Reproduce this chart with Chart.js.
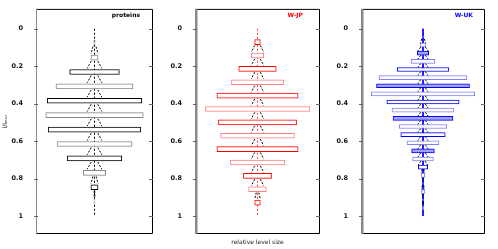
<!DOCTYPE html>
<html>
<head>
<script src="https://cdn.jsdelivr.net/npm/chart.js@4.4.0/dist/chart.umd.min.js"></script>
<style>
  body { margin: 0; background: #fff; }
  canvas { position: absolute; top: 0; }
</style>
</head>
<body>
<canvas id="c1" width="165" height="249" style="left:0px"></canvas>
<canvas id="c2" width="165" height="249" style="left:165px"></canvas>
<canvas id="c3" width="168" height="249" style="left:330px"></canvas>

<script>
  // y axis: l / lmax, ticks shown on every panel
  const yTicks = [0, 0.2, 0.4, 0.6, 0.8, 1];

  // proteins: 13 levels below the root, relative level size (max = 1)
  const proteinsLevel = [0, 1, 2, 3, 4, 5, 6, 7, 8, 9, 10, 11, 12, 13];
  const proteinsSize = [0, 0.01, 0.073, 0.51, 0.79, 0.97, 1, 0.95, 0.77, 0.56, 0.23, 0.073, 0.01, 0];

  // W-JP: 14 levels
  const wjpLevel = [0, 1, 2, 3, 4, 5, 6, 7, 8, 9, 10, 11, 12, 13, 14];
  const wjpSize = [0, 0.054, 0.12, 0.36, 0.5, 0.78, 1, 0.75, 0.71, 0.78, 0.52, 0.27, 0.17, 0.054, 0];

  // W-UK: 23 levels
  const wukLevel = [0, 1, 2, 3, 4, 5, 6, 7, 8, 9, 10, 11, 12, 13, 14, 15, 16, 17, 18, 19, 20, 21, 22, 23];
  const wukSize = [0, 0.01, 0.054, 0.11, 0.23, 0.5, 0.85, 0.9, 1, 0.7, 0.6, 0.58, 0.46, 0.43,
                   0.31, 0.22, 0.2, 0.09, 0.035, 0.01, 0.03, 0.01, 0.01, 0];

  // draws the box, the inner tick marks and the data-set name
  const framePlugin = {
    id: 'frame',
    afterDatasetsDraw(chart, args, o) {
      const { ctx, chartArea: a } = chart;
      const ys = chart.scales.y;
      ctx.save();
      ctx.strokeStyle = '#000';
      ctx.lineWidth = 1;
      ctx.beginPath();
      ctx.moveTo(a.left, a.top + 0.5);
      ctx.lineTo(a.right - 0.5, a.top + 0.5);
      ctx.lineTo(a.right - 0.5, a.bottom - 0.5);
      ctx.lineTo(a.left, a.bottom - 0.5);
      ctx.stroke();
      ctx.strokeStyle = o.leftColor;
      ctx.lineWidth = o.leftWidth;
      ctx.beginPath();
      ctx.moveTo(a.left + o.leftWidth / 2, a.top);
      ctx.lineTo(a.left + o.leftWidth / 2, a.bottom);
      ctx.stroke();
      ctx.strokeStyle = '#666';
      ctx.lineWidth = 1;
      yTicks.forEach(v => {
        const py = Math.round(ys.getPixelForValue(v)) + 0.5;
        ctx.beginPath();
        ctx.moveTo(a.left - 2, py);
        ctx.lineTo(a.left + 2, py);
        ctx.moveTo(a.right - 4, py);
        ctx.lineTo(a.right, py);
        ctx.stroke();
      });
      ctx.fillStyle = o.labelColor;
      ctx.font = 'bold 6px "DejaVu Sans"';
      ctx.textAlign = 'right';
      ctx.textBaseline = 'middle';
      ctx.fillText(o.label, a.right - o.inset, a.top + 7);
      ctx.restore();
    }
  };

  // the little "/ | \" marks between two neighbouring levels
  function connectors(level, size, spread) {
    const lmax = level[level.length - 1];
    const d = 1 / lmax;
    const pts = [];
    for (let i = 0; i < level.length - 1; i++) {
      if (!size[i] || !size[i + 1]) continue;
      const s = Math.min(spread, size[i + 1]);
      const y0 = level[i] / lmax + 0.25 * d;
      const y1 = level[i + 1] / lmax - 0.25 * d;
      pts.push({ x: -0.45 * s, y: y0 }, { x: -s, y: y1 }, { x: NaN, y: NaN },
               { x: 0.45 * s, y: y0 }, { x: s, y: y1 }, { x: NaN, y: NaN });
    }
    return pts;
  }

  function panel(id, level, size, p) {
    const lmax = level[level.length - 1];
    const bars = [];
    level.forEach((l, i) => {
      if (size[i] > 0) bars.push({ x: [-size[i], size[i]], y: l / lmax });
    });

    new Chart(document.getElementById(id), {
      type: 'bar',
      data: {
        datasets: [
          {
            type: 'bar',
            data: bars,
            barThickness: p.thick,
            borderWidth: 1,
            borderSkipped: false,
            borderColor: c => (c.dataIndex % 2 ? p.light : p.dark),
            backgroundColor: c => (p.fill && c.dataIndex % 4 === 2 ? p.fill : '#fff'),
            order: 0
          },
          {
            type: 'line',
            data: connectors(level, size, p.spread),
            borderColor: '#000',
            borderWidth: 1,
            borderDash: [2, 1.5],
            pointRadius: 0,
            spanGaps: false,
            order: 1
          },
          {
            type: 'line',
            data: [{ x: 0, y: 0 }, { x: 0, y: 1 }],
            borderColor: p.center,
            borderWidth: 1,
            borderDash: p.centerDash,
            pointRadius: 0,
            order: 2
          }
        ]
      },
      options: {
        responsive: false,
        animation: false,
        indexAxis: 'y',
        layout: { padding: p.pad },
        plugins: {
          legend: { display: false },
          tooltip: { enabled: false },
          frame: { label: p.label, labelColor: p.dark, inset: p.inset, leftColor: '#888', leftWidth: p.leftWidth }
        },
        scales: {
          x: {
            type: 'linear',
            min: -1.2,
            max: 1.2,
            grid: { display: false },
            border: { display: false },
            ticks: { display: false },
            afterFit: s => { s.height = 15; },
            title: {
              display: !!p.xTitle,
              text: p.xTitle || '',
              color: '#222',
              font: { family: 'DejaVu Sans', size: 6 },
              padding: { top: 0, bottom: 3 }
            }
          },
          y: {
            type: 'linear',
            reverse: true,
            offset: false,
            min: -0.106,
            max: 1.096,
            afterBuildTicks: s => { s.ticks = yTicks.map(v => ({ value: v })); },
            afterFit: s => { s.width = p.axisW; },
            grid: { display: false },
            border: { display: false },
            ticks: {
              padding: 5,
              color: '#111',
              font: { family: 'DejaVu Sans', size: 6.5, weight: 'bold' },
              callback: v => String(v)
            },
            title: {
              display: !!p.yTitle,
              text: p.yTitle || '',
              color: '#111',
              font: { family: 'DejaVu Sans', size: 6 },
              padding: { top: 2, bottom: 0 }
            }
          }
        }
      },
      plugins: [framePlugin]
    });
  }

  panel('c1', proteinsLevel, proteinsSize, {
    label: 'proteins', dark: '#000', light: '#888', center: '#000', fill: null, thick: 5,
    centerDash: [2, 2], axisW: 36, leftWidth: 1, inset: 13, spread: 0.15,
    pad: { left: 0, right: 12, top: 8, bottom: 0 }, yTitle: 'l/lₘₐₓ'
  });
  panel('c2', wjpLevel, wjpSize, {
    label: 'W-JP', dark: '#ff0000', light: '#ff8080', center: '#ff4040', fill: null, thick: 5,
    centerDash: [2, 2], axisW: 30, leftWidth: 2.5, inset: 17, spread: 0.12,
    pad: { left: 0, right: 10, top: 8, bottom: 0 }, xTitle: 'relative level size'
  });
  panel('c3', wukLevel, wukSize, {
    label: 'W-UK', dark: '#0000ff', light: '#8080ff', center: '#0000ff', fill: '#a0a0ff', thick: 4,
    centerDash: [], axisW: 31, leftWidth: 2.5, inset: 12, spread: 0.1,
    pad: { left: 0, right: 13, top: 8, bottom: 0 }
  });
</script>
</body>
</html>
